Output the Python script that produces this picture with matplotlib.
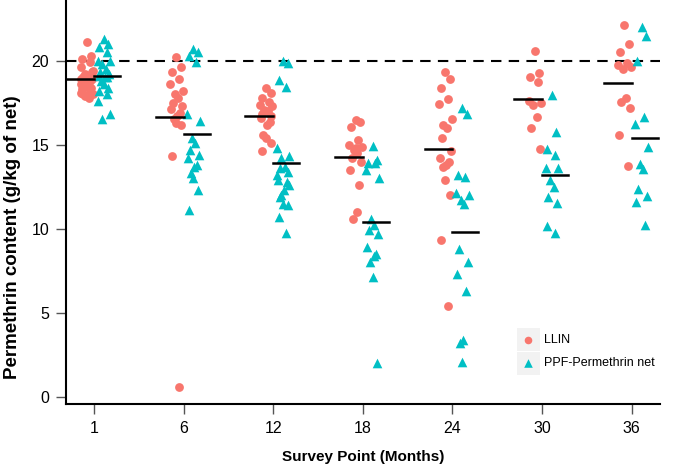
import matplotlib
matplotlib.use('Agg')
import matplotlib.pyplot as plt
from matplotlib.patches import Rectangle
import numpy as np

plt.rcParams['font.family'] = ['Liberation Sans', 'DejaVu Sans']

survey_points = ['1', '6', '12', '18', '24', '30', '36']

# permethrin content (g/kg of net)
llin = [
    [21.1, 20.3, 20.1, 19.9, 19.6, 19.4, 19.2, 19.1, 19.0, 18.9, 18.9, 18.8, 18.7,
     18.6, 18.5, 18.4, 18.3, 18.2, 18.1, 18.0, 17.9, 17.8, 18.0, 19.3, 18.6],
    [20.2, 19.6, 19.3, 18.9, 18.6, 18.2, 18.0, 17.8, 17.5, 17.3, 17.1, 16.9, 16.7,
     16.5, 16.3, 16.2, 14.3, 0.6],
    [18.35, 18.05, 17.75, 17.56, 17.36, 17.3, 17.07, 17.0, 16.8, 16.73, 16.6, 16.37,
     16.17, 15.6, 15.4, 15.1, 14.64],
    [16.47, 16.37, 16.07, 15.28, 14.98, 14.88, 14.68, 14.5, 14.19, 13.99, 13.5, 12.6,
     11.0, 10.6, 14.8],
    [19.3, 18.9, 18.4, 17.7, 17.4, 16.5, 16.2, 16.0, 15.4, 14.6, 14.2, 14.0, 13.8,
     13.7, 12.9, 12.0, 9.3, 5.4],
    [20.6, 19.25, 19.05, 18.75, 17.6, 17.5, 17.36, 16.63, 15.97, 14.72],
    [22.1, 21.0, 20.5, 19.85, 19.75, 19.6, 19.5, 17.76, 17.56, 17.17, 15.58, 13.73],
]
ppf = [
    [21.3, 21.0, 20.8, 20.5, 20.0, 20.0, 19.8, 19.5, 19.3, 19.2, 19.1, 19.0, 19.0,
     18.8, 18.6, 18.4, 18.2, 18.0, 17.6, 16.8, 16.5],
    [20.7, 20.5, 20.3, 19.9, 16.8, 16.4, 15.4, 15.1, 14.7, 14.4, 14.2, 13.8, 13.7,
     13.3, 13.0, 12.3, 11.1],
    [20.0, 19.85, 18.85, 18.45, 14.8, 14.3, 14.2, 13.7, 13.6, 13.4, 12.9, 12.8, 12.3,
     11.9, 11.45, 11.4, 10.7, 9.76, 13.2, 12.6, 12.0],
    [14.9, 14.1, 13.9, 13.9, 13.5, 13.0, 10.6, 10.2, 9.9, 9.7, 8.9, 8.5, 8.4, 8.0,
     7.1, 2.0],
    [17.2, 16.8, 13.2, 13.1, 12.1, 12.0, 11.7, 11.5, 8.8, 8.0, 7.3, 6.3, 3.4, 3.2, 2.1],
    [17.96, 15.77, 14.72, 14.39, 13.6, 13.6, 12.9, 12.46, 11.87, 11.51, 10.18, 9.72],
    [22.0, 21.47, 20.0, 16.63, 16.23, 14.88, 13.85, 13.53, 12.34, 11.95, 11.61, 10.22],
]

target = 20
red = '#F8766D'
cyan = '#00BFC4'

# fixed jitter pattern
jit = [0.0, 0.05, -0.05, 0.03, -0.07, 0.07, -0.02, 0.02, -0.04, 0.06, -0.06, 0.04, 0.01, -0.03]

fig = plt.figure(figsize=(6.85, 4.66), dpi=100)
ax = fig.add_axes([0.0964, 0.1330, 0.8672, 0.8670])

for i in range(len(survey_points)):
    for vals, off, col, mk, ms in [(llin[i], -0.08, red, 'o', 40),
                                   (ppf[i], 0.11, cyan, '^', 48)]:
        xs = [i + off + jit[k % len(jit)] for k in range(len(vals))]
        ax.scatter(xs, vals, s=ms, c=col, marker=mk, linewidths=0, zorder=3)
    # mean lines
    ax.plot([i - 0.31, i], [np.mean(llin[i])] * 2, color='black', lw=1.8, zorder=4)
    ax.plot([i, i + 0.29], [np.mean(ppf[i])] * 2, color='black', lw=1.8, zorder=4)

ax.axhline(target, color='black', lw=1.5, ls=(0, (5, 3.5)), zorder=2)

ax.set_xlim(-0.3125, 6.317)
ax.set_ylim(-0.43, 23.61)
ax.set_xticks(range(len(survey_points)))
ax.set_xticklabels(survey_points)
ax.set_yticks([0, 5, 10, 15, 20])
ax.tick_params(axis='both', length=7, width=1, color='#555555', labelsize=11.5,
               labelcolor='black')
ax.tick_params(axis='x', pad=5)
ax.tick_params(axis='y', pad=5)
for s in ['top', 'right']:
    ax.spines[s].set_visible(False)
for s in ['left', 'bottom']:
    ax.spines[s].set_linewidth(1.5)

ax.set_xlabel('Survey Point (Months)', fontsize=11, fontweight='bold')
ax.set_ylabel('Permethrin content (g/kg of net)', fontsize=13.5, fontweight='bold')
ax.xaxis.set_label_coords(0.50, -0.115)
ax.yaxis.set_label_coords(-0.076, 0.413)

# legend with grey key boxes
kw, kh = 0.0387, 0.057
for y0, col, mk, ms, lab in [(0.131, red, 'o', 30, 'LLIN'),
                             (0.0718, cyan, '^', 38, 'PPF-Permethrin net')]:
    ax.add_patch(Rectangle((0.759, y0), kw, kh, transform=ax.transAxes,
                           facecolor='#F2F2F2', edgecolor='none', zorder=5))
    ax.scatter([0.759 + kw / 2], [y0 + kh / 2], s=ms, c=col, marker=mk,
               linewidths=0, transform=ax.transAxes, zorder=6)
    ax.text(0.805, y0 + kh / 2, lab, transform=ax.transAxes, fontsize=9,
            va='center', ha='left')

fig.savefig('out.png', dpi=100)
